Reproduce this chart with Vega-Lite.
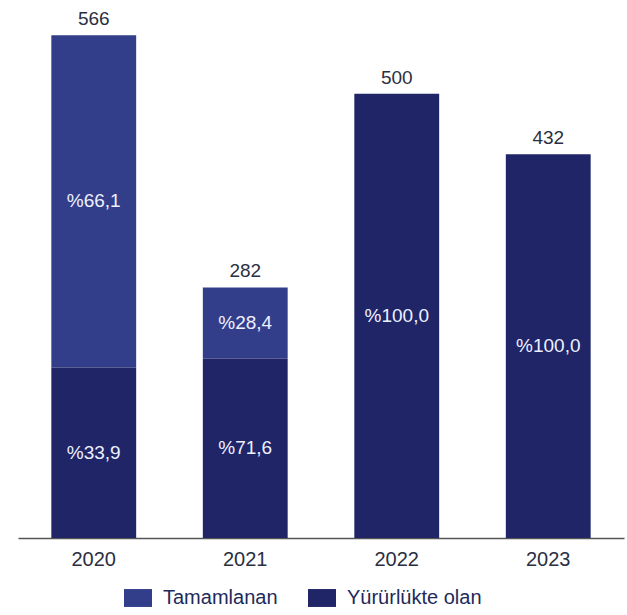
{
  "$schema": "https://vega.github.io/schema/vega-lite/v6.json",
  "width": 606,
  "height": 533,
  "autosize": "none",
  "padding": {"left": 18, "top": 5, "right": 3, "bottom": 77},
  "background": "white",
  "data": {
    "values": [
      {"year": "2020", "type": "Tamamlanan", "value": 374, "pct": "%66,1"},
      {"year": "2020", "type": "Yürürlükte olan", "value": 192, "pct": "%33,9"},
      {"year": "2021", "type": "Tamamlanan", "value": 80, "pct": "%28,4"},
      {"year": "2021", "type": "Yürürlükte olan", "value": 202, "pct": "%71,6"},
      {"year": "2022", "type": "Yürürlükte olan", "value": 500, "pct": "%100,0"},
      {"year": "2023", "type": "Yürürlükte olan", "value": 432, "pct": "%100,0"}
    ]
  },
  "transform": [
    {"stack": "value", "groupby": ["year"], "sort": [{"field": "type", "order": "descending"}], "as": ["v0", "v1"]},
    {"calculate": "(datum.v0 + datum.v1) / 2", "as": "mid"}
  ],
  "encoding": {
    "x": {
      "field": "year", "type": "nominal", "title": null,
      "scale": {"paddingInner": 0.44, "paddingOuter": 0.22},
      "axis": {
        "labelAngle": 0, "labelFont": "Liberation Sans", "labelFontSize": 20,
        "labelColor": "#2b2f42", "labelPadding": 11, "ticks": false,
        "domainColor": "#555555", "domainWidth": 1.5
      }
    }
  },
  "layer": [
    {
      "mark": {"type": "bar"},
      "encoding": {
        "y": {"field": "v0", "type": "quantitative", "scale": {"domain": [0, 600]}, "axis": null},
        "y2": {"field": "v1"},
        "color": {
          "field": "type", "type": "nominal", "title": null,
          "scale": {"domain": ["Tamamlanan", "Yürürlükte olan"], "range": ["#333e8b", "#1f2567"]},
          "legend": {
            "orient": "none", "legendX": 106, "legendY": 579, "direction": "horizontal",
            "symbolType": "M-1,-0.64H1V0.64H-1Z", "symbolSize": 784, "symbolStrokeWidth": 0,
            "labelFont": "Liberation Sans", "labelFontSize": 20, "labelColor": "#222a5a",
            "columnPadding": 30, "labelOffset": 11
          }
        }
      }
    },
    {
      "mark": {"type": "text", "font": "Liberation Sans", "fontSize": 19, "color": "#eef0ff"},
      "encoding": {
        "y": {"field": "mid", "type": "quantitative"},
        "text": {"field": "pct", "type": "nominal"}
      }
    },
    {
      "transform": [{"aggregate": [{"op": "sum", "field": "value", "as": "total"}], "groupby": ["year"]}],
      "mark": {"type": "text", "font": "Liberation Sans", "fontSize": 19, "color": "#2b2f42", "baseline": "alphabetic", "dy": -10},
      "encoding": {
        "y": {"field": "total", "type": "quantitative"},
        "text": {"field": "total", "type": "quantitative"}
      }
    }
  ],
  "config": {"view": {"stroke": null}}
}
